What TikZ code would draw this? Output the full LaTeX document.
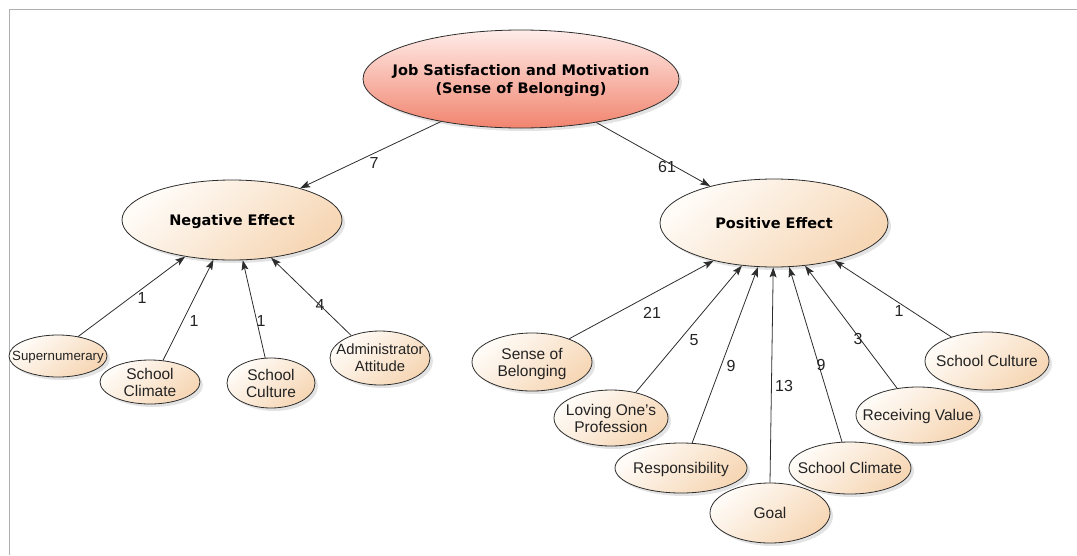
\documentclass[tikz,border=0pt]{standalone}
\usepackage{fontspec}
\setmainfont{Liberation Sans}
\newfontfamily\headfont{DejaVu Sans}
\usetikzlibrary{shapes.geometric,arrows.meta,shadows}

\definecolor{framegray}{RGB}{175,175,175}
\definecolor{linegray}{RGB}{45,45,45}
\definecolor{peachlight}{RGB}{255,252,248}
\definecolor{peachdark}{RGB}{246,214,180}
\definecolor{rosylight}{RGB}{255,236,232}
\definecolor{rosydark}{RGB}{241,132,110}
\definecolor{textgray}{RGB}{35,35,35}

% centred text that takes no room, so each ellipse keeps the size it is given
\newcommand\bubbletext[1]{\makebox[0pt]{\raisebox{-0.38em}[0pt][0pt]{\begin{tabular}[c]{@{}c@{}}#1\end{tabular}}}}

\tikzset{
  bubble/.style={ellipse, draw=linegray, line width=0.8pt, inner sep=0pt,
    shading=axis, top color=peachlight, bottom color=peachdark, shading angle=40,
    drop shadow={shadow xshift=3pt, shadow yshift=-3pt, opacity=0.22},
    text=textgray, font=\fontsize{15.5}{17.5}\selectfont},
  tight/.style={font=\fontsize{#1}{17}\selectfont},
  hub/.style={bubble, font=\headfont\bfseries\fontsize{14.5}{17.5}\selectfont, text=black},
  rootbubble/.style={hub, top color=rosylight, bottom color=rosydark},
  link/.style={draw=linegray, line width=0.8pt, -{Stealth[length=10pt,width=7pt,inset=2pt]}},
  count/.style={font=\fontsize{16}{18}\selectfont, text=textgray, inner sep=0pt}
}

\begin{document}
\begin{tikzpicture}[x=1pt, y=-1pt]
\useasboundingbox (0,0) rectangle (1077,555);
% frame
\draw[framegray, line width=1.5pt] (9.5,555) -- (9.5,9.5) -- (1077,9.5);

% central nodes
\node[rootbubble, minimum width=316pt, minimum height=98pt] (root) at (521,79)
  {\bubbletext{Job Satisfaction and Motivation\\(Sense of Belonging)}};
\node[hub, minimum width=220pt, minimum height=80pt] (neg) at (232,220) {\bubbletext{Negative Effect}};
\node[hub, minimum width=228pt, minimum height=88pt] (pos) at (774,223) {\bubbletext{Positive Effect}};

% negative side
\node[bubble, tight=13.3, minimum width=98pt, minimum height=42pt] (super) at (58,356) {\bubbletext{Supernumerary}};
\node[bubble, minimum width=100pt, minimum height=44pt] (nclim) at (150,382) {\bubbletext{School\\Climate}};
\node[bubble, minimum width=88pt, minimum height=50pt] (ncult) at (271,383) {\bubbletext{School\\Culture}};
\node[bubble, tight=14.8, minimum width=100pt, minimum height=54pt] (admin) at (380,358) {\bubbletext{Administrator\\Attitude}};

% positive side
\node[bubble, minimum width=120pt, minimum height=58pt] (sense) at (532,362) {\bubbletext{Sense of\\Belonging}};
\node[bubble, minimum width=114pt, minimum height=56pt] (love) at (611,418) {\bubbletext{Loving One’s\\Profession}};
\node[bubble, minimum width=132pt, minimum height=50pt] (resp) at (681,468) {\bubbletext{Responsibility}};
\node[bubble, minimum width=120pt, minimum height=60pt] (goal) at (770,513) {\bubbletext{Goal}};
\node[bubble, minimum width=122pt, minimum height=52pt] (pclim) at (850,468) {\bubbletext{School Climate}};
\node[bubble, minimum width=124pt, minimum height=56pt] (recv) at (918,415) {\bubbletext{Receiving Value}};
\node[bubble, minimum width=124pt, minimum height=58pt] (pcult) at (987,361) {\bubbletext{School Culture}};

% connectors
\draw[link] (root.208) -- (neg.25);
\draw[link] (root.330) -- (pos.150);

\draw[link] (super.44) -- (neg.218);
\draw[link] (nclim.59) -- (neg.245);
\draw[link] (ncult.103) -- (neg.285);
\draw[link] (admin.142) -- (neg.316);

\draw[link] (sense.32) -- (pos.212);
\draw[link] (love.46) -- (pos.233);
\draw[link] (resp.66) -- (pos.250);
\draw[link] (goal.90) -- (pos.269);
\draw[link] (pclim.107) -- (pos.289);
\draw[link] (recv.128) -- (pos.306);
\draw[link] (pcult.146) -- (pos.328);

% counts
\node[count] (c7) at (374,163) {7};
\node[count] (c61) at (667,167) {61};
\node[count] (c1a) at (142,298) {1};
\node[count] (c1b) at (194,321) {1};
\node[count] (c1c) at (261,321) {1};
\node[count] (c4) at (320,305) {4};
\node[count] (c21) at (652,313) {21};
\node[count] (c5) at (694,340) {5};
\node[count] (c9a) at (731,366) {9};
\node[count] (c13) at (784,386) {13};
\node[count] (c9b) at (821,365) {9};
\node[count] (c3) at (858,339) {3};
\node[count] (c1d) at (899,311) {1};
\end{tikzpicture}
\end{document}
